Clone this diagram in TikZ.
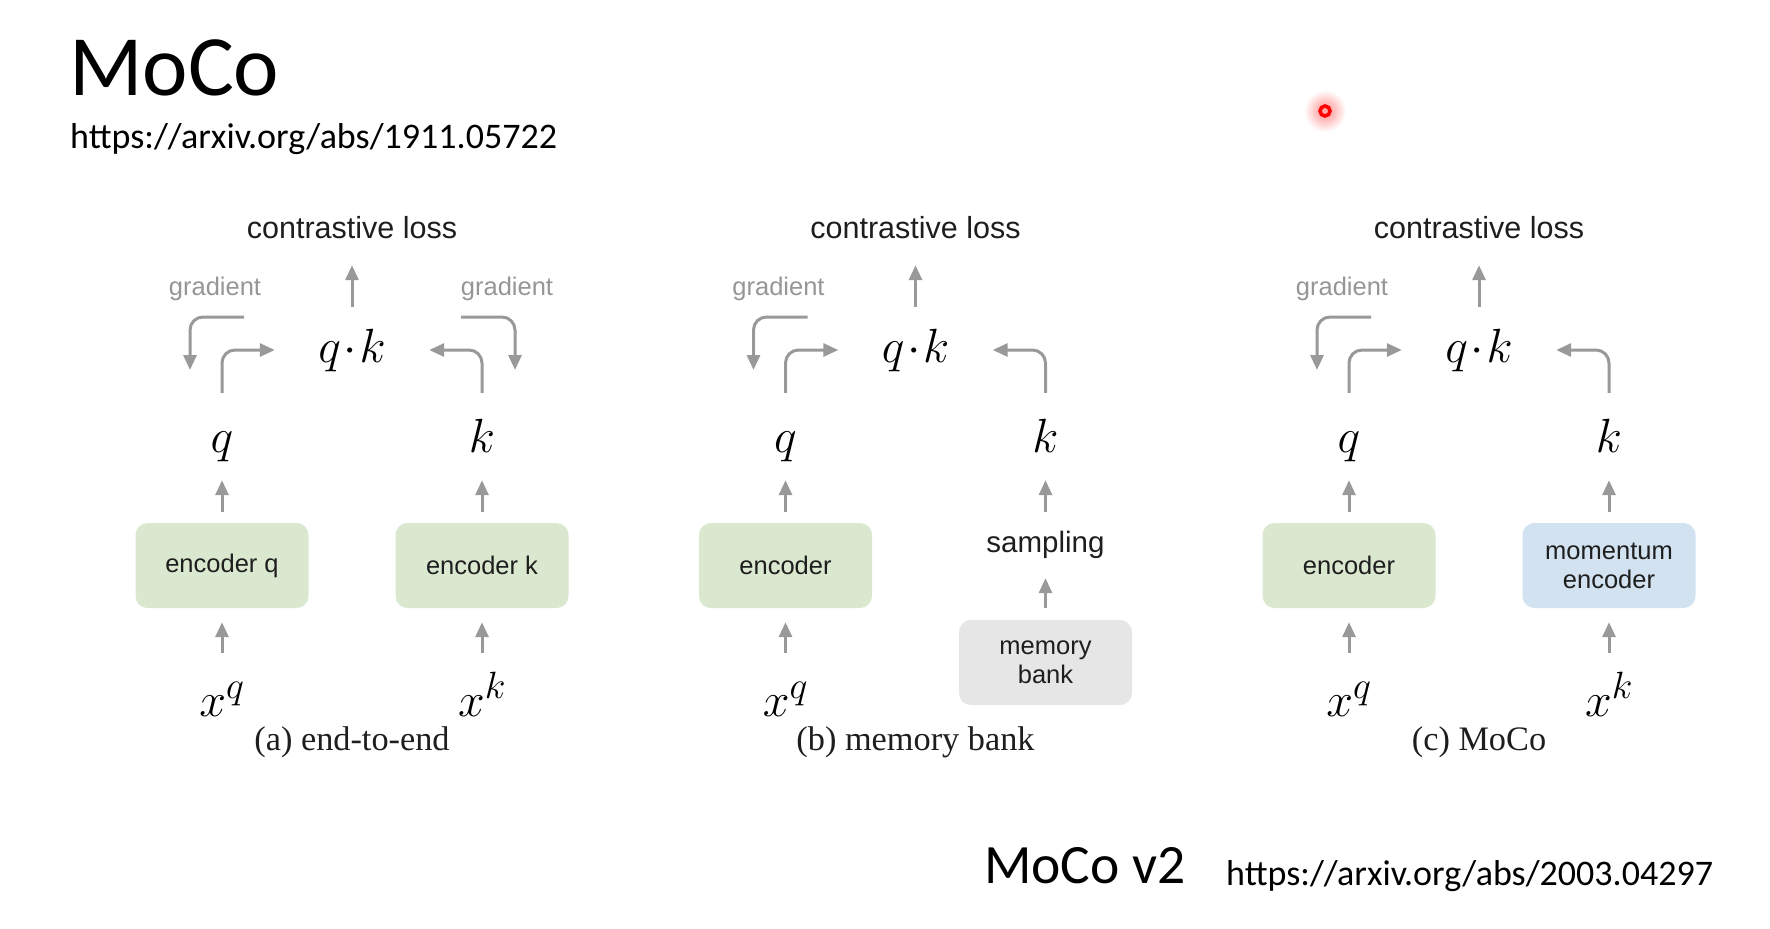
\RequirePackage{fix-cm}
\documentclass[tikz,border=0pt]{standalone}
\usepackage{fontspec}
\newfontfamily\calib{Carlito}
\newfontfamily\arialf{Liberation Sans}
\newfontfamily\timesf{Liberation Serif}
\usetikzlibrary{arrows.meta}
\DeclareMathSizes{48}{48}{38}{30}
\definecolor{arrgray}{RGB}{153,153,153}
\definecolor{gradgray}{RGB}{150,150,150}
\definecolor{encgreen}{RGB}{219,232,208}
\definecolor{encblue}{RGB}{210,226,241}
\definecolor{memgray}{RGB}{230,230,230}
\definecolor{txtdark}{RGB}{30,30,30}
\tikzset{
  garrow/.style={draw=arrgray, line width=3pt, rounded corners=13pt,
    -{Triangle[length=15pt,width=13pt]}},
  encbox/.style={rounded corners=12pt, minimum width=173pt, minimum height=85pt,
    inner sep=0pt, align=center, text=txtdark,
    font=\arialf\fontsize{25.5}{29}\selectfont},
  mathlbl/.style={font=\fontsize{48}{54}\selectfont, inner sep=0pt, anchor=base,
    text height=34pt, text depth=10pt},
  qklbl/.style={mathlbl, minimum width=154pt},
  losslbl/.style={font=\arialf\fontsize{30.5}{35}\selectfont, inner sep=0pt,
    anchor=base, text height=22pt, text depth=0pt, text=txtdark},
  samplbl/.style={font=\arialf\fontsize{29.5}{34}\selectfont, inner sep=0pt,
    anchor=base, text height=22pt, text depth=7pt, text=txtdark},
  gradlbl/.style={font=\arialf\fontsize{25.5}{30}\selectfont, inner sep=0pt,
    anchor=base, text=gradgray},
  caplbl/.style={font=\timesf\fontsize{34.3}{40}\selectfont, inner sep=0pt,
    anchor=base, text=txtdark},
  slidelbl/.style={inner sep=0pt, anchor=base west, text=black}
}
\begin{document}
\begin{tikzpicture}[x=1pt,y=-1pt]
\useasboundingbox (0,0) rectangle (1770,929);
\fill[white] (0,0) rectangle (1770,929);

% slide texts
\node[slidelbl, font=\calib\fontsize{86}{92}\selectfont] (title) at (69,95) {MoCo};
\node[slidelbl, font=\calib\fontsize{36}{40}\selectfont] (url1) at (70,148) {https://arxiv.org/abs/1911.05722};
\node[slidelbl, font=\calib\fontsize{55.5}{60}\selectfont] (title2) at (984,883) {MoCo v2};
\node[slidelbl, font=\calib\fontsize{36}{40}\selectfont] (url2) at (1226,885) {https://arxiv.org/abs/2003.04297};

% laser pointer dot
\coordinate (dot) at (1325,111);
\shade[inner color=red!45, outer color=white] (dot) circle (21pt);
\draw[red, line width=3.5pt, fill=red!35] (dot) circle (5pt);

% ---------------- panel (a) ----------------
\begin{scope}[name prefix=a-]
\node[losslbl] (loss) at (352,238) {contrastive loss};
\node[qklbl] (qk) at (352,362) {$q\mkern1mu{\cdot}\mkern1mu k$};
\node[mathlbl] (q) at (222,452) {$q$};
\node[mathlbl] (k) at (482,452) {$k$};
\node[encbox, fill=encgreen] (encq) at (222,565.5) {encoder q};
\node[encbox, fill=encgreen] (enck) at (482,565.5) {encoder k};
\node[mathlbl] (xq) at (222,716) {$x^q$};
\node[mathlbl] (xk) at (482,716) {$x^k$};
\node[caplbl] (cap) at (352,750) {(a) end-to-end};
\node[gradlbl] (gl) at (215,295) {gradient};
\node[gradlbl] (gr) at (507,295) {gradient};
\coordinate (gls) at (244,317); \coordinate (gle) at (190,370);
\coordinate (grs) at (461,317); \coordinate (gre) at (515,370);
\draw[garrow, shorten <=21pt, shorten >=27pt] (qk.north) -- (loss.south);
\draw[garrow, shorten <=25pt] (q.north) |- (qk.west);
\draw[garrow, shorten <=25pt] (k.north) |- (qk.east);
\draw[garrow] (gls) -| (gle);
\draw[garrow] (grs) -| (gre);
\draw[garrow, shorten <=11pt, shorten >=18pt] (encq.north) -- (q.south);
\draw[garrow, shorten <=11pt, shorten >=18pt] (enck.north) -- (k.south);
\draw[garrow, shorten <=29pt, shorten >=14pt] (xq.north) -- (encq.south);
\draw[garrow, shorten <=29pt, shorten >=14pt] (xk.north) -- (enck.south);
\end{scope}

% ---------------- panel (b) ----------------
\begin{scope}[shift={(563.5,0)}, name prefix=b-]
\node[losslbl] (loss) at (352,238) {contrastive loss};
\node[qklbl] (qk) at (352,362) {$q\mkern1mu{\cdot}\mkern1mu k$};
\node[mathlbl] (q) at (222,452) {$q$};
\node[mathlbl] (k) at (482,452) {$k$};
\node[encbox, fill=encgreen] (enc) at (222,565.5) {encoder};
\node[samplbl] (samp) at (482,552) {sampling};
\node[encbox, fill=memgray] (mem) at (482,662.5) {memory\\bank};
\node[mathlbl] (xq) at (222,716) {$x^q$};
\node[caplbl] (cap) at (352,750) {(b) memory bank};
\node[gradlbl] (gl) at (215,295) {gradient};
\coordinate (gls) at (244,317); \coordinate (gle) at (190,370);
\draw[garrow, shorten <=21pt, shorten >=27pt] (qk.north) -- (loss.south);
\draw[garrow, shorten <=25pt] (q.north) |- (qk.west);
\draw[garrow, shorten <=25pt] (k.north) |- (qk.east);
\draw[garrow] (gls) -| (gle);
\draw[garrow, shorten <=11pt, shorten >=18pt] (enc.north) -- (q.south);
\draw[garrow, shorten <=18pt, shorten >=18pt] (samp.north) -- (k.south);
\draw[garrow, shorten <=12pt, shorten >=19pt] (mem.north) -- (samp.south);
\draw[garrow, shorten <=29pt, shorten >=14pt] (xq.north) -- (enc.south);
\end{scope}

% ---------------- panel (c) ----------------
\begin{scope}[shift={(1127,0)}, name prefix=c-]
\node[losslbl] (loss) at (352,238) {contrastive loss};
\node[qklbl] (qk) at (352,362) {$q\mkern1mu{\cdot}\mkern1mu k$};
\node[mathlbl] (q) at (222,452) {$q$};
\node[mathlbl] (k) at (482,452) {$k$};
\node[encbox, fill=encgreen] (enc) at (222,565.5) {encoder};
\node[encbox, fill=encblue] (menc) at (482,565.5) {momentum\\encoder};
\node[mathlbl] (xq) at (222,716) {$x^q$};
\node[mathlbl] (xk) at (482,716) {$x^k$};
\node[caplbl] (cap) at (352,750) {(c) MoCo};
\node[gradlbl] (gl) at (215,295) {gradient};
\coordinate (gls) at (244,317); \coordinate (gle) at (190,370);
\draw[garrow, shorten <=21pt, shorten >=27pt] (qk.north) -- (loss.south);
\draw[garrow, shorten <=25pt] (q.north) |- (qk.west);
\draw[garrow, shorten <=25pt] (k.north) |- (qk.east);
\draw[garrow] (gls) -| (gle);
\draw[garrow, shorten <=11pt, shorten >=18pt] (enc.north) -- (q.south);
\draw[garrow, shorten <=11pt, shorten >=18pt] (menc.north) -- (k.south);
\draw[garrow, shorten <=29pt, shorten >=14pt] (xq.north) -- (enc.south);
\draw[garrow, shorten <=29pt, shorten >=14pt] (xk.north) -- (menc.south);
\end{scope}
\end{tikzpicture}
\end{document}
